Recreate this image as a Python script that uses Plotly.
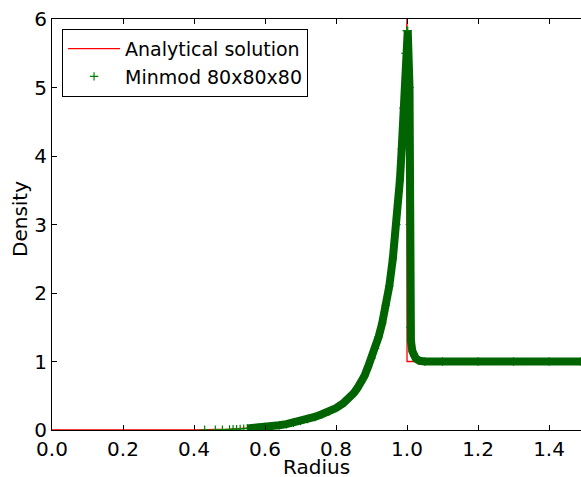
import plotly.graph_objects as go

# Analytical (Sedov) solution
ana_r = [0.0, 0.30, 0.40, 0.50, 0.60, 0.70, 0.80, 0.85, 0.90, 0.95, 0.98, 1.000, 1.000, 1.50]
ana_rho = [0.0, 0.0, 0.003, 0.012, 0.045, 0.13, 0.32, 0.54, 1.0, 2.1, 3.6, 6.0, 1.0, 1.0]

# Minmod 80x80x80 simulation, band centre
sim_r = [0.55, 0.56, 0.58, 0.60, 0.62, 0.64, 0.66, 0.68, 0.70, 0.72, 0.74, 0.76, 0.78,
         0.80, 0.82, 0.84, 0.85, 0.86, 0.87, 0.88, 0.89, 0.90, 0.91, 0.92, 0.93, 0.94,
         0.95, 0.96, 0.97, 0.98, 0.985, 0.99, 0.995, 0.999, 1.002, 1.007, 1.008, 1.009,
         1.011, 1.015, 1.020, 1.025, 1.035, 1.050, 1.100, 1.200, 1.300, 1.400, 1.490]
sim_rho = [0.022, 0.025, 0.033, 0.045, 0.055, 0.07, 0.085, 0.105, 0.13, 0.16, 0.19, 0.23, 0.27,
           0.32, 0.39, 0.48, 0.54, 0.61, 0.69, 0.79, 0.92, 1.05, 1.19, 1.36, 1.56, 1.82,
           2.1, 2.5, 3.0, 3.65, 4.1, 4.7, 5.5, 5.83, 5.83, 5.0, 3.0, 1.5,
           1.3, 1.15, 1.08, 1.04, 1.01, 1.0, 1.0, 1.0, 1.0, 1.0, 1.0]

# Sparse cells near the centre
sparse_r = [0.43, 0.46, 0.48, 0.50, 0.51, 0.52, 0.53, 0.54]
sparse_rho = [0.003, 0.004, 0.006, 0.009, 0.011, 0.013, 0.015, 0.018]

x_ticks = [0.0, 0.2, 0.4, 0.6, 0.8, 1.0, 1.2, 1.4]
y_ticks = [0, 1, 2, 3, 4, 5, 6]

band = "#006400"

fig = go.Figure()
fig.add_trace(go.Scatter(x=ana_r, y=ana_rho, mode="lines", name="Analytical solution",
                         line=dict(color="red", width=1.3)))
fig.add_trace(go.Scatter(x=sparse_r + sim_r, y=sparse_rho + sim_rho, mode="markers",
                         name="Minmod 80x80x80",
                         marker=dict(symbol="cross-thin", size=6, color=band,
                                     line=dict(color="green", width=1.2))))
fig.add_trace(go.Scatter(x=sim_r, y=sim_rho, mode="lines", showlegend=False,
                         line=dict(color=band, width=8), hoverinfo="skip"))

axis_common = dict(showline=True, linecolor="black", linewidth=1, ticks="inside",
                   ticklen=5, tickcolor="black", showgrid=False, zeroline=False,
                   automargin=False, tickfont=dict(size=20, color="black"))

fig.update_layout(
    width=581, height=477,
    margin=dict(l=52, r=0, t=19, b=47),
    paper_bgcolor="white", plot_bgcolor="white",
    font=dict(family="DejaVu Sans", size=20, color="black"),
    xaxis=dict(range=[0, 1.490], tickvals=x_ticks, ticklabelstandoff=1,
               ticktext=[f"{v:.1f}" for v in x_ticks], mirror="ticks", **axis_common),
    yaxis=dict(range=[0, 6], tickvals=y_ticks, ticktext=[str(v) for v in y_ticks],
               mirror=False, **axis_common),
    legend=dict(x=0.019, y=0.976, xanchor="left", yanchor="top",
                bgcolor="white", bordercolor="black", borderwidth=1,
                font=dict(size=19), itemwidth=52, tracegroupgap=0),
    showlegend=True,
    annotations=[
        dict(text="Radius", xref="paper", yref="paper", x=(316.5 - 52) / 529,
             y=-(454 - 430) / 411, xanchor="center", yanchor="top", showarrow=False,
             font=dict(size=20), borderpad=0),
        dict(text="Density", xref="paper", yref="paper", x=(19.5 - 52) / 529,
             y=(430 - 219.5) / 411, xanchor="center", yanchor="middle", showarrow=False,
             textangle=-90, font=dict(size=20)),
    ],
)

fig.write_html("out.html", config={"displayModeBar": False},
               post_script="document.body.style.margin='0px';document.body.style.padding='0px';")
